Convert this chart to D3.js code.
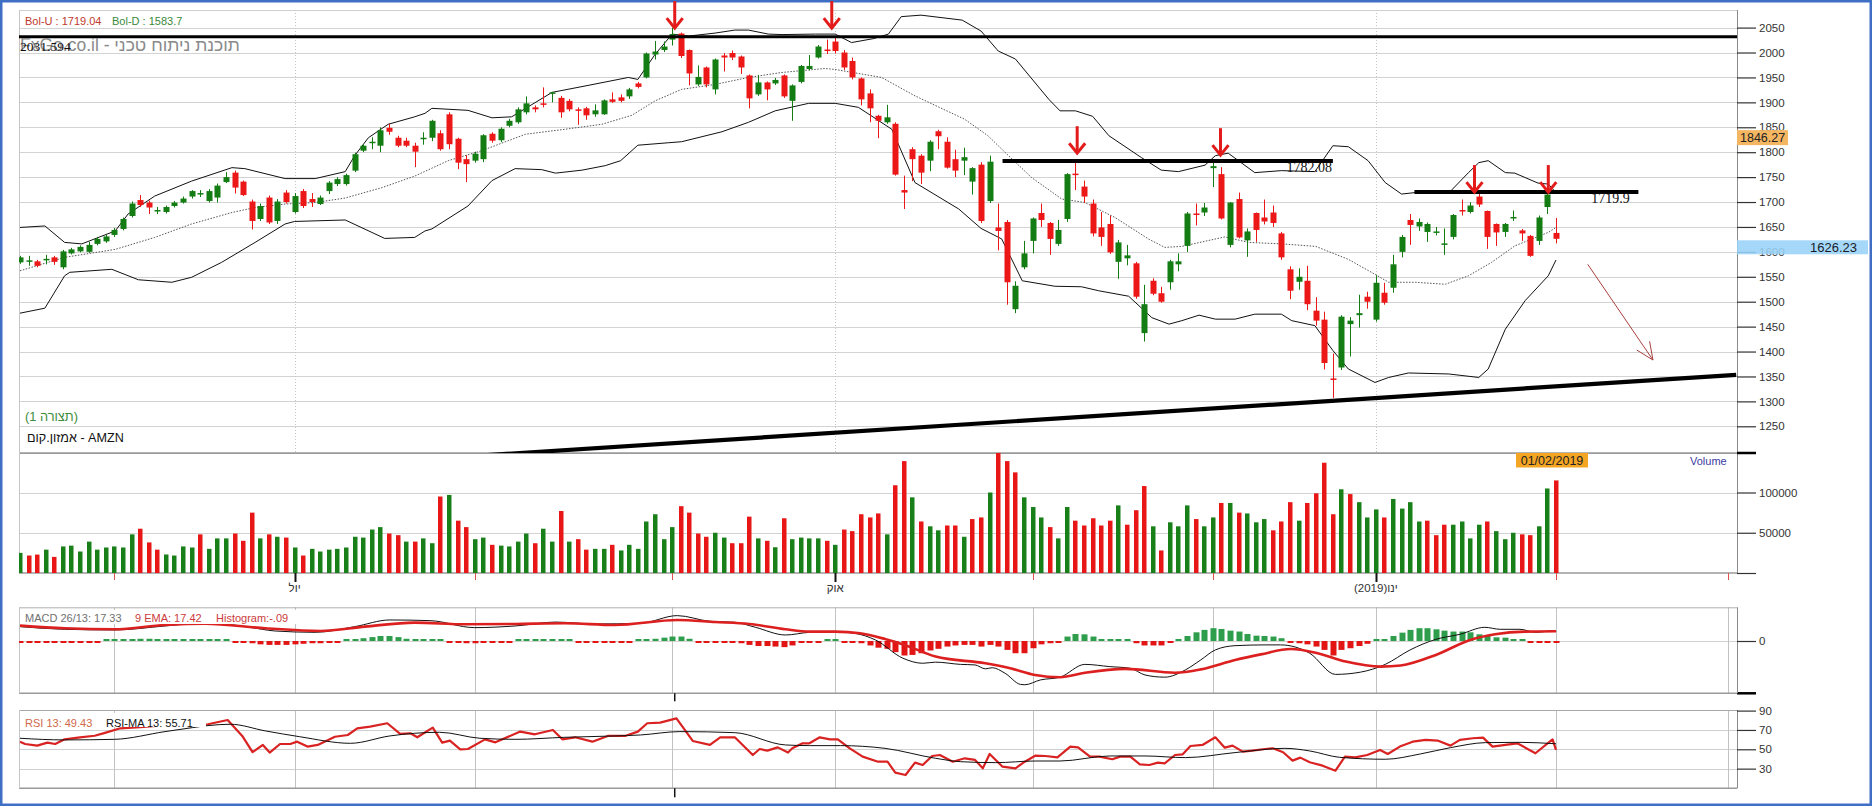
<!DOCTYPE html>
<html lang="he"><head><meta charset="utf-8"><title>AMZN</title>
<script src="https://cdn.jsdelivr.net/npm/d3@7/dist/d3.min.js"></script>
<style>
html,body{margin:0;padding:0;background:#fff;}
svg{display:block;}
text{font-family:"Liberation Sans",Arial,"DejaVu Sans",sans-serif;}
.serif{font-family:"Liberation Serif","Times New Roman",serif;}
</style></head><body>
<svg id="chart" width="1872" height="806"></svg>
<script>
// ---------------- DATA ----------------
const openP = [1579,1582,1581,1584,1589,1569,1597,1601,1600,1616, 1621,1634,1646,1672,1704,1699,1682,1680,1692,1699, 1711,1716,1702,1709,1740,1759,1741,1701,1666,1709, 1662,1719,1680,1722,1706,1696,1722,1736,1736,1763, 1803,1820,1813,1849,1829,1823,1813,1828,1829,1838, 1876,1827,1786,1783,1786,1837,1824,1853,1860,1880, 1890,1898,1918,1909,1903,1886,1888,1876,1876,1906, 1910,1912,1938,1950,1996,2005,2026,2038,2005,1936, 1970,1926,1994,1999,1992,1954,1916,1940,1938,1954, 1903,1941,1967,1990,2006,2022,2000,1983,1948,1918, 1873,1860,1857,1724,1806,1793,1783,1842,1821,1786, 1783,1741,1775,1702,1649,1660,1485,1569,1622,1678, 1658,1616,1666,1757,1731,1697,1649,1656,1580,1587, 1577,1437,1542,1517,1539,1575,1612,1677,1679,1768, 1756,1614,1706,1623,1678,1669,1679,1637,1565,1540, 1542,1482,1464,1346,1368,1455,1473,1510,1464,1518, 1528,1600,1664,1651,1640,1640,1615,1630,1684,1680, 1711,1682,1656,1640,1668,1643,1632,1622,1690,1638];
const highP = [1592,1592,1584,1594,1592,1604,1608,1613,1620,1630, 1635,1648,1669,1701,1714,1703,1690,1693,1702,1711, 1724,1724,1726,1737,1760,1763,1743,1705,1697,1713, 1706,1724,1718,1726,1718,1713,1742,1750,1757,1799, 1816,1830,1850,1857,1833,1829,1819,1840,1865,1844, 1880,1829,1794,1801,1836,1840,1850,1867,1890,1912, 1894,1930,1921,1913,1907,1890,1891,1896,1906,1920, 1916,1929,1941,2000,2023,2022,2050,2040,2006,1974, 1972,1988,1999,2004,1994,1956,1955,1942,1949,1956, 1936,1975,1995,2015,2026,2033,2005,1990,1950,1926, 1875,1895,1860,1753,1810,1796,1824,1845,1830,1805, 1809,1770,1780,1793,1697,1664,1541,1622,1669,1697, 1660,1664,1758,1785,1743,1705,1680,1673,1624,1614, 1580,1534,1547,1530,1584,1597,1680,1697,1698,1779, 1770,1700,1719,1647,1679,1705,1693,1640,1571,1567, 1572,1509,1480,1396,1473,1469,1514,1520,1553,1538, 1594,1634,1676,1667,1659,1650,1647,1676,1705,1700, 1716,1683,1657,1658,1683,1646,1634,1673,1720,1668];
const lowP = [1576,1572,1569,1575,1574,1565,1595,1599,1598,1613, 1618,1630,1643,1669,1690,1676,1676,1677,1689,1697, 1707,1710,1699,1699,1738,1717,1712,1645,1662,1656, 1656,1697,1677,1688,1690,1694,1716,1732,1733,1760, 1800,1806,1800,1835,1810,1810,1770,1815,1822,1803, 1806,1766,1740,1779,1780,1819,1820,1850,1857,1876, 1880,1890,1900,1869,1882,1855,1865,1871,1875,1899, 1900,1907,1928,1948,1986,2001,2014,1989,1934,1933, 1930,1916,1962,1985,1957,1888,1913,1904,1935,1909, 1863,1938,1964,1988,1997,1998,1965,1946,1894,1860, 1828,1857,1753,1686,1742,1736,1762,1806,1767,1750, 1754,1715,1658,1698,1603,1494,1477,1565,1597,1650, 1594,1612,1660,1724,1698,1631,1612,1596,1546,1573, 1506,1420,1513,1498,1524,1561,1600,1653,1672,1730, 1665,1609,1627,1590,1620,1655,1650,1584,1505,1524, 1483,1452,1364,1307,1363,1390,1448,1486,1460,1494, 1518,1589,1614,1642,1620,1633,1594,1625,1673,1677, 1690,1606,1612,1630,1662,1622,1590,1614,1676,1617];
const closeP = [1589,1583,1572,1586,1580,1601,1605,1610,1614,1626, 1631,1644,1666,1697,1694,1689,1684,1690,1699,1707, 1722,1718,1722,1733,1750,1729,1714,1662,1692,1659, 1701,1700,1712,1692,1700,1709,1739,1746,1754,1796, 1813,1821,1844,1841,1813,1813,1801,1829,1863,1806, 1816,1779,1776,1797,1834,1823,1847,1863,1886,1898, 1886,1895,1920,1880,1886,1883,1874,1884,1904,1901, 1903,1926,1931,1998,2002,2012,2037,1993,1958,1951, 1936,1986,1990,1990,1970,1908,1940,1926,1945,1912, 1934,1973,1973,2012,2003,2003,1970,1950,1906,1888, 1863,1870,1755,1719,1786,1759,1821,1832,1769,1763, 1790,1768,1662,1781,1642,1539,1532,1597,1667,1664, 1626,1644,1756,1755,1711,1637,1630,1599,1619,1593, 1510,1495,1516,1500,1581,1581,1677,1674,1689,1772, 1667,1699,1629,1641,1644,1661,1658,1589,1522,1550, 1495,1462,1377,1343,1470,1462,1477,1500,1538,1498, 1575,1630,1654,1660,1656,1641,1617,1674,1682,1693, 1695,1630,1639,1656,1670,1637,1592,1669,1715,1626.23];
// volume in thousands
const volumeK = [25,21.7,22.9,29,20,33,34,26.7,39,29, 31.7,33,31.7,48,55,38,29,23,21.7,33, 31.7,48,30,43,43,49,40,75,43,48, 45,44,31.7,21.7,30,26.7,29,30,31.7,45, 44,54,57,49,47,39,39,43,37,95, 97,65,57,42,44,35,34,33,39,49, 37,55,39,77,39,42,29,30,30,35, 28,35,30,64,73,42,57,83,75,49, 45,50,44,37,37,70,43,40,32,68, 42,44,43,43,40,35,54,52,73,69, 74,48,109,139,94,64,58,53,59,59, 45,67,69,100,151,139,125,94,82,69, 57,43,82,65,59,68,59,65,84,60, 78,108,58,28,63,58,84,67,58,69, 87,87,75,74,63,67,53,64,88,65, 87,99,137,73,104,98,88,69,79,69, 92,80,88,64,65,47,60,60,64,43, 60,64,52,42,50,48,47,58,105,115];
const volumeDir = "grrgrggggg" + "ggggrrrggg" + "grgggrrrgr" + "grgrgggggg" + "gggrrgrggr" + "grrggrgggg" + "rggrgrrggr" + "gggggggrrr" + "rggrrrgrgr" + "ggggrgrrrr" + "rgrrgrggrr" + "grrgrrrggg" + "rggrrrrrgr" + "rrgrgggrgg" + "rgrgggrrrg" + "rrrrgrgggr" + "ggggrrrggg" + "grgggrrggr";
// Bollinger bands [candle index, price]
const bbUpper = [[0,1649],[2.9,1652],[5.2,1619],[7.2,1616],[11.1,1642],[12.6,1676],[15.7,1712],[20,1742],[24.7,1769],[26.2,1767],[30.9,1747],[34.4,1747],[37.9,1761],[39,1793],[40.6,1829],[42.9,1856],[46,1871],[47.2,1878],[48,1888],[52.2,1884],[55,1869],[57.3,1871],[62,1920],[66.2,1934],[70.9,1950],[72,1946],[74,1996],[76,2037],[77.9,2033],[81,2039],[83.3,2045],[84.9,2045],[87.2,2037],[88.8,2036],[92.7,2037],[95,2037],[96.9,2020],[99.5,2028],[101.2,2037],[102.7,2072],[105,2075],[109.8,2065],[112,2043],[114,2003],[116,1987],[119.9,1906],[121.2,1883],[123,1883],[125,1872],[126.9,1833],[130.7,1789],[133,1764],[135,1761],[138.1,1774],[139.3,1793],[140.8,1798],[143.9,1759],[147,1763],[150.9,1761],[153,1813],[154.8,1811],[157.1,1783],[159.1,1739],[161,1716],[164.2,1722],[166.5,1718],[168.8,1759],[170,1779],[171.1,1783],[173.1,1759],[174.2,1758],[176.9,1738],[178.1,1736],[179,1719.04]];
const bbMid = [[0,1562],[5.2,1589],[11.1,1605],[15.7,1629],[20,1656],[24.7,1679],[27.4,1689],[30.9,1696],[34.4,1699],[37.9,1708],[42.2,1729],[46,1752],[49.9,1783],[53.8,1803],[58.9,1836],[63.5,1846],[67.8,1856],[71.3,1874],[74,1903],[77.1,1926],[81,1936],[84.9,1950],[88.8,1960],[93.8,1968],[95,1966],[100.4,1950],[104.3,1913],[110.1,1866],[112.8,1833],[115.2,1793],[117.9,1749],[121.4,1706],[124.1,1699],[127.6,1669],[131.5,1626],[133.4,1609],[135.4,1611],[140.4,1630],[143.2,1619],[147.1,1616],[151,1611],[154.8,1585],[157.9,1555],[159.5,1539],[162.6,1539],[166.1,1535],[168.8,1552],[171.5,1579],[174.2,1612],[178.1,1639],[179,1649]];
const bbLower = [[0,1477],[2.9,1487],[5.2,1552],[5.8,1559],[10.7,1565],[13.8,1544],[17.7,1539],[20,1549],[23.5,1579],[27.4,1619],[30.9,1656],[32,1661],[37.9,1664],[42.5,1627],[46,1629],[47.2,1642],[48,1646],[52.2,1692],[55,1743],[57.7,1767],[60.8,1765],[62.4,1758],[65.5,1764],[68.2,1773],[70,1783],[72,1814],[75.6,1819],[77.1,1821],[81.8,1841],[84.9,1860],[88,1883],[91.9,1898],[95,1898],[97.7,1890],[101.6,1846],[104.3,1739],[109.4,1686],[112,1647],[114.4,1626],[116.8,1542],[120.6,1531],[123.7,1530],[125.7,1522],[129.2,1511],[131.9,1468],[133.9,1455],[135.4,1462],[137.4,1473],[139.3,1465],[141.6,1465],[143.9,1475],[147,1475],[148.2,1462],[150.9,1452],[153,1402],[154.8,1365],[157.9,1338],[159.5,1348],[161.8,1357],[166.5,1355],[170,1348],[171.1,1365],[173.1,1445],[175.4,1502],[178.1,1552],[179,1583.7]];
// MACD 26/13, signal 9 EMA [index, value]; histogram per candle
const macdLine = [[0,25.8],[5.2,21],[11,19.8],[16.9,27],[21.6,33],[26.8,24.6],[29.7,18],[34.4,15.6],[39,25.8],[43.1,37.8],[47.8,36.6],[53,24],[57.7,27],[62.4,34],[67,30.6],[72.3,31.8],[76.6,45.6],[80.4,35.4],[83.3,33.6],[85.7,24.6],[89.2,10.8],[92,15.6],[95,16.8],[97.3,13.8],[99.7,1.8],[102.9,-31],[105.2,-40],[106.7,-38],[109.6,-42],[111.3,-43],[112.5,-50],[113.3,-48],[114.8,-58],[116.6,-78],[117.1,-78.6],[118.9,-70],[121.2,-65],[124.1,-42],[127,-46],[129.4,-49],[131.1,-61],[133.4,-65],[135.8,-52],[137.6,-34],[139.3,-16],[141.6,-8.4],[145.1,-7],[146.9,-7],[150.3,-22],[153.3,-60],[156.2,-56],[159.1,-42],[162,-16],[165,3],[167.8,12],[170.7,24.6],[172.5,21],[174.8,21],[176.6,15.6],[178.9,18.6],[179,17.33]];
const macdSignal = [[0,27.6],[5.2,22.8],[11,21],[16.9,28.8],[21.6,31],[28.6,22.8],[35,18],[40.2,25.8],[46,33],[51.9,30],[57.7,30.6],[63.5,31.8],[69.3,28.8],[76.6,37.8],[81,34.2],[85,30.6],[89.2,21],[92,16.8],[95,16.8],[97.9,13.8],[100.8,3.6],[103.1,-7],[106.7,-28],[112.5,-40],[115.4,-49],[118.3,-61],[121.2,-65],[124.1,-57],[128.8,-50],[134.6,-57],[137.6,-51],[141.6,-34],[144.6,-24],[148.1,-14.4],[151,-21],[154.5,-37],[158.6,-46],[160.9,-44],[165,-25],[169,1.8],[171.9,12],[175.4,16.8],[179,17.42]];
const macdHist = [-2,-2,-2,-2,-2,-2,-2,-2,-2,-2, 1,1,1,3,4,4,3,1,1,1, 1,1,1,1,1,-2,-2,-4,-6,-7, -7,-7,-6,-5,-4,-4,-3,-2,1,3, 5,7,9,9,7,4,2,1,1,1, -2,-3,-4,-4,-3,-3,-3,-2,1,1, 2,2,3,2,1,-2,-3,-3,-3,-3, -2,-2,1,2,4,6,8,8,4,-2, -3,-2,-3,-3,-4,-7,-9,-9,-10,-11, -8,-3,-3,-2,1,1,-2,-2,-4,-8, -12,-14,-20,-26,-25,-22,-17,-14,-10,-8, -7,-7,-10,-7,-10,-16,-22,-22,-13,-6, -4,-3,8,12.6,12,8,3.6,1,1,1, -4,-8,-8,-8,-2,1,9,15.6,20,23, 21.6,18.6,17,12.6,9.6,9,8,5,-2,-4, -6,-10,-16,-26,-16,-13,-9,-5,1,3, 9,15,20,23,23,21,18.6,17,17,15.6, 12,9.6,6.6,6,3.6,2.4,-2,-1.5,-1.5,-1];
// RSI 13 and its 13 MA [index, value]
const rsiLine = [[0,57.9],[0.6,55.5],[2,53.8],[3.2,56.9],[4.1,55.5],[5.2,60.3],[7,62.4],[8.7,64],[9.9,67],[11.7,71.7],[14,73],[17,75],[20,74],[21.9,75.9],[24.2,80.3],[25.9,63.8],[27.1,47],[28.3,54.5],[29.1,46.6],[30.3,55.5],[31.5,55.5],[32.3,57.9],[33.5,52.8],[34.7,54.5],[36.7,63],[38.2,64.8],[39.3,71.7],[40.8,73.4],[42.8,76.9],[44.3,65.9],[45.5,66.6],[46.3,62.4],[48.1,72.4],[49.2,56.9],[50.1,59],[51.3,50],[52.2,50.3],[54.2,60.3],[55.4,57.2],[58.3,68.3],[60,65.5],[62.1,70],[63.2,60.3],[64.7,62.4],[66.7,57.9],[68.5,63.8],[70.5,63.8],[72,68.3],[73.1,76.9],[74.6,77.6],[76.5,82],[78.4,58.6],[80.4,54.5],[81.6,62.4],[83.3,62.4],[85.4,44.1],[86.2,50.3],[87.1,48.6],[88.3,52],[89.5,46.6],[90,51],[91.2,56.2],[92,56.2],[93.2,62.4],[94.4,60.3],[95.3,60.3],[96.7,51],[98.2,42.4],[100,37.2],[101.1,37.2],[102,25.9],[103.2,23.4],[104.3,36.2],[105.2,33.8],[106.3,43.1],[107.2,44.1],[108.7,37.2],[110.1,40.7],[111.3,39],[112.2,30.3],[113,45.2],[114.5,32],[116,30.3],[117.1,37.2],[118.3,43.4],[119.5,43.1],[120.9,41.7],[122.4,52.8],[123.3,52],[124.7,42.4],[125.8,42.4],[127.3,39.7],[128.2,42.4],[129.4,42.4],[130.5,34.5],[131.6,33.8],[132.6,36.2],[133.4,35.5],[134.6,44.1],[135.5,44.8],[136.4,53.4],[137.8,54.5],[139.3,62.4],[140.4,51.7],[141.3,53.8],[142.5,47.6],[143.6,48.6],[145.1,50.3],[146,51],[147.2,46.9],[148.3,38.3],[149.2,41.4],[150.3,36.6],[151.8,33.1],[153.3,27.9],[154.4,42.4],[155.6,41.7],[157,44.1],[158.5,49.3],[159.4,45.2],[160.8,52.8],[162.3,57.9],[163.8,59.7],[165.2,59],[166.7,53.8],[167.8,59.7],[169.3,61.4],[170.5,62.1],[171.6,52.8],[173.1,54.5],[174.5,56.2],[176.6,45.9],[178.6,60.3],[179,49.43]];
const rsiMA = [[0,61.4],[5.2,59.7],[11,60.3],[16.9,68.3],[20.1,72.4],[21.9,74.5],[24.5,75.9],[28.6,69],[32.6,63],[38.5,56.2],[43.1,63.8],[48.9,67.6],[53.6,61.4],[57.7,60.3],[63.5,62.4],[69.3,63.8],[72.3,64.8],[76.9,68.3],[83.3,67.2],[89.2,54.5],[92,53.8],[95.6,53.8],[100.8,51],[106.7,40.7],[109.6,37.2],[113.7,36.2],[118.3,37.9],[121.2,37.9],[127,43.1],[131.1,43.1],[135.8,41.4],[141.6,46.6],[147.4,51],[150.3,48.3],[153.8,41.7],[159.1,39.7],[163.2,45.2],[166.7,51.7],[170.8,56.9],[174.8,57.2],[179,55.71]];
// axis ticks and calendar
const priceTicks = [1250,1300,1350,1400,1450,1500,1550,1600,1650,1700,1750,1800,1850,1900,1950,2000,2050];
const volumeTicks = [0,50000,100000];
const macdTicks = [0];
const rsiTicks = [30,50,70,90];
const monthStarts = [11,32,53,76,95,118,139,158,179,199];
const quarterStarts = [32,95,158];
const quarterLabels = ["יול","אוק","ינו(2019)"];
// drawings on the price pane (candle index / price)
const hLines = [{p:2031.594,i0:-1,i1:200,label:"2031.594",li:0},{p:1782.08,i0:114.5,i1:153,label:"1782.08",li:147.6},{p:1719.9,i0:162.5,i1:188.6,label:"1719.9",li:183.1}];
const trendLine = [[50,1187.3],[200,1353.3]];
const downArrows = [[76.3,2049],[94.6,2049],[123.2,1798],[139.9,1794],[169.5,1720],[178.1,1720]];
const forecastArrow = [[182.7,1575],[190.3,1383]];

// ---------------- LAYOUT ----------------
const svg = d3.select('#chart');
const PL = 19, AX = 1737;
const P = {t:10,b:453}, V = {t:453,b:573}, M = {t:607.3,b:693.3}, R = {t:710,b:788.3};
const GREEN = '#137d13', RED = '#ec1717';
const FS = 11;

const x = d3.scaleLinear().domain([0,179]).range([20,1556]);
const yP = d3.scaleLinear().domain([1250,2050]).range([426.3,27.6]);
const yV = d3.scaleLinear().domain([0,100000]).range([573,492.5]);
const yM = d3.scaleLinear().domain([0,60]).range([641,607.6]);
const yR = d3.scaleLinear().domain([10,90]).range([788,710.6]);
const xr = i => Math.round(x(i));

svg.append('rect').attr('x',1.25).attr('y',1.25).attr('width',1869.5).attr('height',803.5)
  .attr('fill','#fff').attr('stroke','#3e6fc4').attr('stroke-width',2.5);

const defs = svg.append('defs');
[['cP',P],['cV',V],['cM',M],['cR',R]].forEach(([id,b])=>{
  defs.append('clipPath').attr('id',id).append('rect').attr('x',PL).attr('y',b.t).attr('width',AX-PL).attr('height',b.b-b.t);
});

function hGrid(scale, ticks, color){
  svg.append('g').selectAll('line').data(ticks).join('line')
    .attr('x1',PL).attr('x2',AX).attr('y1',d=>Math.round(scale(d))+0.5).attr('y2',d=>Math.round(scale(d))+0.5)
    .attr('stroke',color).attr('stroke-width',1);
}
function vGrid(idxs, b, color, dash){
  svg.append('g').selectAll('line').data(idxs).join('line')
    .attr('x1',i=>xr(i)+0.5).attr('x2',i=>xr(i)+0.5).attr('y1',b.t).attr('y2',b.b)
    .attr('stroke',color).attr('stroke-width',1).attr('stroke-dasharray',dash||null);
}
function frame(b, topC, botC){
  const g = svg.append('g');
  g.append('line').attr('x1',PL).attr('x2',AX).attr('y1',b.t+0.5).attr('y2',b.t+0.5).attr('stroke',topC);
  g.append('line').attr('x1',PL).attr('x2',AX).attr('y1',b.b).attr('y2',b.b).attr('stroke',botC).attr('stroke-width',1.5);
  g.append('line').attr('x1',PL+0.5).attr('x2',PL+0.5).attr('y1',b.t).attr('y2',b.b).attr('stroke','#c6c6c6');
}
function rightAxis(scale, ticks, fmt){
  const g = svg.append('g').attr('transform',`translate(${AX},0)`)
    .call(d3.axisRight(scale).tickValues(ticks).tickSize(19).tickSizeOuter(0).tickPadding(3).tickFormat(fmt));
  g.select('.domain').remove();
  g.selectAll('.tick line').attr('stroke','#333').attr('stroke-width',1.2);
  g.selectAll('.tick text').attr('fill','#333').attr('font-size',11.5);
  return g;
}
function axisLine(b){
  svg.append('line').attr('x1',AX+0.5).attr('x2',AX+0.5).attr('y1',b.t).attr('y2',b.b).attr('stroke','#8a8a8a');
}

// ---------- PRICE PANE ----------
hGrid(yP, priceTicks, '#d3d3d3');
vGrid(quarterStarts, P, '#c4c4c4', '1,2');
frame(P, '#cfcfcf', '#9a9a9a');

const lineP = d3.line().x(d=>x(d[0])).y(d=>yP(d[1]));
const gP = svg.append('g').attr('clip-path','url(#cP)');
gP.append('path').attr('d',lineP(bbUpper)).attr('fill','none').attr('stroke','#111').attr('stroke-width',1);
gP.append('path').attr('d',lineP(bbLower)).attr('fill','none').attr('stroke','#111').attr('stroke-width',1);
gP.append('path').attr('d',lineP(bbMid)).attr('fill','none').attr('stroke','#555').attr('stroke-width',1).attr('stroke-dasharray','1.5,1.5');

const idx = d3.range(closeP.length);
const ccol = i => closeP[i] >= openP[i] ? GREEN : RED;
gP.append('g').selectAll('line').data(idx).join('line')
  .attr('x1',i=>xr(i)+0.5).attr('x2',i=>xr(i)+0.5)
  .attr('y1',i=>yP(highP[i])).attr('y2',i=>yP(lowP[i]))
  .attr('stroke',ccol).attr('stroke-width',1);
gP.append('g').selectAll('rect').data(idx).join('rect')
  .attr('x',i=>xr(i)-2.5).attr('width',6)
  .attr('y',i=>Math.min(yP(openP[i]),yP(closeP[i])))
  .attr('height',i=>Math.max(1.5,Math.abs(yP(openP[i])-yP(closeP[i]))))
  .attr('fill',ccol);

// horizontal drawn lines
hLines.forEach(h=>{
  const x0 = h.i0 < 0 ? PL : x(h.i0), x1 = h.i1 >= 200 ? AX : x(h.i1);
  gP.append('line').attr('x1',x0).attr('x2',x1).attr('y1',yP(h.p)).attr('y2',yP(h.p))
    .attr('stroke','#000').attr('stroke-width',h.i0<0?3.2:4);
});
// trend line
gP.append('path').attr('d',lineP(trendLine)).attr('stroke','#000').attr('stroke-width',4.2).attr('fill','none');

// watermark / labels
svg.append('text').attr('x',20).attr('y',51).attr('fill','#8a8a8a').attr('font-size',17.5)
  .attr('direction','ltr').text('FxGo.co.il - תוכנת ניתוח טכני');
svg.append('text').attr('class','serif').attr('x',20).attr('y',yP(hLines[0].p)+14).attr('font-size',13.5).attr('fill','#111').text(hLines[0].label);
hLines.slice(1).forEach(h=>{
  svg.append('text').attr('class','serif').attr('x',x(h.li)).attr('y',yP(h.p)+11).attr('font-size',14).attr('fill','#111').text(h.label);
});
svg.append('text').attr('x',25).attr('y',25).attr('font-size',FS).attr('fill','#c0392b').text('Bol-U : 1719.04');
svg.append('text').attr('x',112).attr('y',25).attr('font-size',FS).attr('fill','#3a8a3a').text('Bol-D : 1583.7');
svg.append('text').attr('x',25).attr('y',421).attr('font-size',12.8).attr('fill','#3b8c3b').attr('direction','ltr').text('(1 תצורה)');
svg.append('text').attr('x',27).attr('y',442).attr('font-size',12.6).attr('fill','#111').attr('direction','ltr').text('אמזון.קום - AMZN');

// red down arrows
const gA = svg.append('g').attr('stroke','#e31b1b').attr('stroke-width',3).attr('fill','none').attr('stroke-linecap','butt');
downArrows.forEach(([i,p])=>{
  const ax = x(i), ty = yP(p);
  gA.append('line').attr('x1',ax).attr('x2',ax).attr('y1',ty-27).attr('y2',ty-1);
  gA.append('polyline').attr('points',`${ax-8},${ty-10} ${ax},${ty} ${ax+8},${ty-10}`);
});
// forecast arrow
{
  const [s,t] = forecastArrow;
  const sx=x(s[0]), sy=yP(s[1]), tx=x(t[0]), ty=yP(t[1]);
  const ang = Math.atan2(sy-ty, sx-tx), L=19, a=0.42;
  const g = svg.append('g').attr('stroke','#a8403f').attr('stroke-width',1).attr('fill','none');
  g.append('line').attr('x1',sx).attr('y1',sy).attr('x2',tx).attr('y2',ty);
  g.append('line').attr('x1',tx).attr('y1',ty).attr('x2',tx+L*Math.cos(ang+a)).attr('y2',ty+L*Math.sin(ang+a));
  g.append('line').attr('x1',tx).attr('y1',ty).attr('x2',tx+L*Math.cos(ang-a)).attr('y2',ty+L*Math.sin(ang-a));
}

axisLine(P);
rightAxis(yP, priceTicks, d3.format('d'));
// price flags on the axis
svg.append('rect').attr('x',AX).attr('y',yP(1846.27)+1).attr('width',51).attr('height',15).attr('fill','#f5b662');
svg.append('text').attr('x',AX+3).attr('y',yP(1846.27)+13).attr('font-size',12.5).attr('fill','#222').text('1846.27');
svg.append('rect').attr('x',AX).attr('y',yP(closeP[179])+1.5).attr('width',131).attr('height',14).attr('fill','#99d3f7').attr('fill-opacity',0.88);
svg.append('text').attr('x',1857).attr('y',yP(closeP[179])+13).attr('text-anchor','end').attr('font-size',13).attr('fill','#1a1a2a').text('1626.23');

// ---------- VOLUME PANE ----------
hGrid(yV, [50000,100000], '#d3d3d3');
frame(V, '#9a9a9a', '#9a9a9a');
const gV = svg.append('g').attr('clip-path','url(#cV)');
gV.selectAll('rect').data(idx).join('rect')
  .attr('x',i=>xr(i)-2).attr('width',4.5)
  .attr('y',i=>yV(volumeK[i]*1000)).attr('height',i=>yV(0)-yV(volumeK[i]*1000))
  .attr('fill',i=>volumeDir[i]==='g' ? '#198019' : '#e81616');
axisLine(V);
rightAxis(yV, volumeTicks, d=> d ? d3.format('d')(d) : '');
svg.append('text').attr('x',1690).attr('y',465).attr('font-size',FS).attr('fill','#3a3aa0').text('Volume');
svg.append('rect').attr('x',x(179)-40).attr('y',V.t).attr('width',72).attr('height',14.5).attr('fill','#f5a524');
svg.append('text').attr('x',x(179)-4).attr('y',V.t+11.5).attr('text-anchor','middle').attr('font-size',12.5).attr('fill','#222').text('01/02/2019');
// time axis ticks and labels
svg.append('g').selectAll('line').data(monthStarts).join('line')
  .attr('x1',i=>xr(i)+0.5).attr('x2',i=>xr(i)+0.5).attr('y1',V.b)
  .attr('y2',i=>quarterStarts.includes(i)?582:580)
  .attr('stroke',i=>quarterStarts.includes(i)?'#111':'#e05050')
  .attr('stroke-width',i=>quarterStarts.includes(i)?2:1);
svg.append('g').selectAll('text').data(quarterStarts).join('text')
  .attr('x',i=>x(i)).attr('y',592).attr('text-anchor','middle').attr('font-size',11.5).attr('fill','#333')
  .attr('direction','ltr').text((d,k)=>quarterLabels[k]);
// thick separators on axis
[P.b, M.b].forEach(yy=>{
  svg.append('line').attr('x1',AX).attr('x2',AX+19).attr('y1',yy).attr('y2',yy).attr('stroke','#000').attr('stroke-width',2.5);
});

// ---------- MACD PANE ----------
hGrid(yM, macdTicks, '#d3d3d3');
vGrid(monthStarts, M, '#c2c2c2');
frame(M, '#b0b0b0', '#9a9a9a');
const gM = svg.append('g').attr('clip-path','url(#cM)');
gM.selectAll('rect').data(idx).join('rect')
  .attr('x',i=>xr(i)-2.5).attr('width',6)
  .attr('y',i=> macdHist[i]>=0 ? Math.min(yM(macdHist[i]), yM(0)-2) : yM(0))
  .attr('height',i=> Math.max(2, Math.abs(yM(macdHist[i])-yM(0))))
  .attr('fill',i=> macdHist[i]>=0 ? '#2e9e4c' : '#e21414');
const lineM = d3.line().curve(d3.curveMonotoneX).x(d=>x(d[0])).y(d=>yM(d[1]));
gM.append('path').attr('d',lineM(macdLine)).attr('fill','none').attr('stroke','#111').attr('stroke-width',1);
gM.append('path').attr('d',lineM(macdSignal)).attr('fill','none').attr('stroke','#dc1f1f').attr('stroke-width',2.6);
svg.append('rect').attr('x',PL+1).attr('y',610).attr('width',279).attr('height',14).attr('fill','#fff');
svg.append('text').attr('x',25).attr('y',622).attr('font-size',FS).attr('fill','#707070').text('MACD 26/13: 17.33');
svg.append('text').attr('x',135).attr('y',622).attr('font-size',FS).attr('fill','#cc3b3b').text('9 EMA: 17.42');
svg.append('text').attr('x',216).attr('y',622).attr('font-size',FS).attr('fill','#cc3b3b').text('Histogram:-.09');
axisLine(M);
rightAxis(yM, macdTicks, d3.format('d'));

// ---------- RSI PANE ----------
hGrid(yR, [30,50,70], '#cfcfcf');
vGrid(monthStarts, R, '#c2c2c2');
frame(R, '#a8a8a8', '#9a9a9a');
const gR = svg.append('g').attr('clip-path','url(#cR)');
const lineR = d3.line().x(d=>x(d[0])).y(d=>yR(d[1]));
gR.append('path').attr('d',lineR(rsiLine)).attr('fill','none').attr('stroke','#d92222').attr('stroke-width',2.2).attr('stroke-linejoin','round');
gR.append('path').attr('d',d3.line().curve(d3.curveMonotoneX).x(d=>x(d[0])).y(d=>yR(d[1]))(rsiMA)).attr('fill','none').attr('stroke','#111').attr('stroke-width',1);
svg.append('rect').attr('x',PL+1).attr('y',713).attr('width',186).attr('height',14).attr('fill','#fff');
svg.append('text').attr('x',25).attr('y',727).attr('font-size',FS).attr('fill','#d0684a').text('RSI 13: 49.43');
svg.append('text').attr('x',106).attr('y',727).attr('font-size',FS).attr('fill','#111').text('RSI-MA 13: 55.71');
axisLine(R);
rightAxis(yR, rsiTicks, d3.format('d'));

// marker ticks under indicator panes at the first arrow's candle
[[M.b,M.b+8],[R.b,R.b+9]].forEach(([a,b])=>{
  svg.append('line').attr('x1',x(downArrows[0][0])).attr('x2',x(downArrows[0][0])).attr('y1',a).attr('y2',b).attr('stroke','#111').attr('stroke-width',1.5);
});
</script></body></html>
